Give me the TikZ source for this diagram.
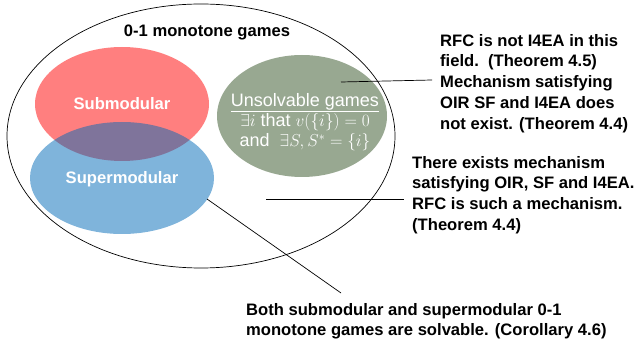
\documentclass[tikz,border=0pt]{standalone}
\usepackage{fontspec}
\setmainfont{Liberation Sans}
\usetikzlibrary{positioning,shapes.geometric}
\definecolor{subred}{RGB}{255,0,0}
\definecolor{supblue}{RGB}{0,105,183}
\definecolor{unsgreen}{RGB}{152,168,145}

\begin{document}
\begin{tikzpicture} [x=1pt, y=-1pt,
	set/.style={ellipse, inner sep=0pt, text=white, font=\fontsize{16.6}{19.5}\selectfont\bfseries},
	claim/.style={anchor=north west, align=left, inner sep=0pt, font=\fontsize{16.6}{20.7}\selectfont\bfseries}]
\useasboundingbox (0,0) rectangle (637,347);

% sets
\node [ellipse, draw, line width=0.7pt, minimum width=388pt, minimum height=264pt] (all) at (201,136) {};
\node [font=\fontsize{16.6}{20}\selectfont\bfseries] (title) at (207,32) {0-1 monotone games};
\node [set, fill=subred, fill opacity=0.5, text opacity=1, minimum width=174pt, minimum height=114pt] (sub) at (122,104) {Submodular};
\node [set, fill=supblue, fill opacity=0.5, text opacity=1, minimum width=184pt, minimum height=112pt] (sup) at (122,178) {};
\node [set] (suptext) at (122,179) {Supermodular};
\node [set, fill=unsgreen, minimum width=170pt, minimum height=122pt] (uns) at (302,116) {};
\node [set, align=center, font=\fontsize{18}{20}\selectfont] (unstext) at (305,122) {\underline{Unsolvable games}\\$\exists i$ that $v(\{i\})=0$\\and\ \ $\exists S, S^{*}=\{i\}$};

% claims
\node [claim] (rfc) at (440,34) {RFC is not I4EA in this\\field.\ \ (Theorem 4.5)\\Mechanism satisfying\\OIR SF and I4EA does\\not exist. (Theorem 4.4)};
\node [claim] (exists) at (412,156) {There exists mechanism\\satisfying OIR, SF and I4EA.\\RFC is such a mechanism.\\(Theorem 4.4)};
\node [claim] (both) at (246,303) {Both submodular and supermodular 0-1\\monotone games are solvable. (Corollary 4.6)};

\coordinate (p1) at (341,82);
\coordinate (q1) at (432,80);
\coordinate (p2) at (266,199);
\coordinate (q2) at (404,199);
\coordinate (p3) at (207,199);
\coordinate (q3) at (341,293);

\path[draw, line width=0.7pt]
		(p1) edge (q1)
		(p2) edge (q2)
		(p3) edge (q3);

\end{tikzpicture}
\end{document}
